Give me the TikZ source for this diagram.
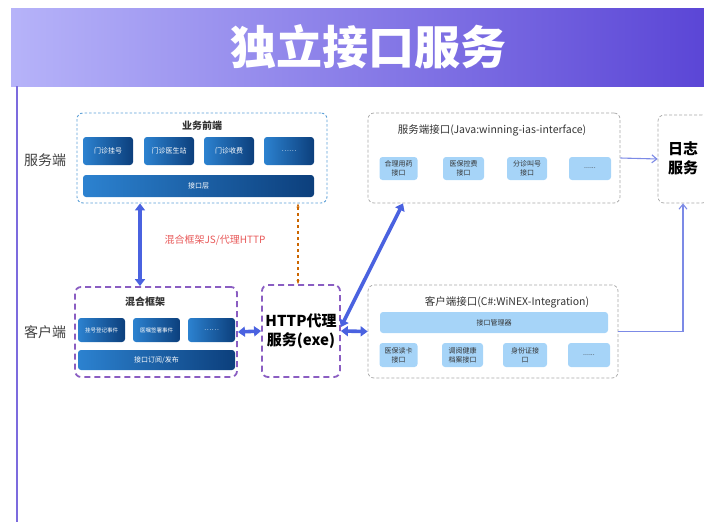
\documentclass[tikz,border=0pt]{standalone}
\usepackage{fontspec}
\setmainfont{Noto Sans CJK SC}
\usetikzlibrary{arrows.meta,positioning}
\definecolor{barlight}{HTML}{B6B3F9}
\definecolor{barmid}{HTML}{A7A0F3}
\definecolor{bardark}{HTML}{5B46D6}
\definecolor{btnlight}{HTML}{2C82D0}
\definecolor{btndark}{HTML}{0C3F7C}
\definecolor{btnpale}{HTML}{A6D4F8}
\definecolor{boxblue}{HTML}{5C9FD6}
\definecolor{boxpurple}{HTML}{8A5DC2}
\definecolor{arrowblue}{HTML}{4A62E0}
\definecolor{linkblue}{HTML}{7C8AE6}
\definecolor{labelred}{HTML}{E85A5A}
\tikzset{
  darkbtn/.style={rounded corners=3pt, left color=btnlight, right color=btndark,
    text=white, inner sep=0pt, font=\fontsize{7}{8}\selectfont},
  palebtn/.style={rounded corners=3pt, fill=btnpale, inner sep=0pt, align=center,
    text=black!80, font=\fontsize{7}{9}\selectfont},
  frontbox/.style={draw=boxblue, line width=0.9pt, dash pattern=on 2.5pt off 2pt, rounded corners=6pt},
  mixbox/.style={draw=boxpurple, line width=1.8pt, dash pattern=on 6pt off 4pt, rounded corners=6pt},
  greybox/.style={draw=black!35, line width=0.7pt, dash pattern=on 3pt off 2pt, rounded corners=6pt},
  bigarrow/.style={draw=arrowblue, line width=3.6pt, {Triangle[length=7pt,width=10pt]}-{Triangle[length=7pt,width=10pt]}},
  thinarrow/.style={draw=linkblue, line width=1.1pt, -{Straight Barb[length=5pt,width=8pt]}},
  sidelabel/.style={text=black!75, font=\fontsize{14}{16}\selectfont}
}
\begin{document}
\begin{tikzpicture}[x=1pt,y=-1pt]
  \useasboundingbox (0,0) rectangle (704,522);
  % title bar
  \shade[left color=barlight, middle color=barmid, right color=bardark] (11,8) rectangle (704,86);
  \node[text=white, font=\fontsize{46}{50}\selectfont\bfseries] (title) at (368,47) {独立接口服务};
  \draw[bardark!80, line width=2pt] (17,86) -- (17,522);
  % side labels
  \node[sidelabel] (srvside) at (45,160) {服务端};
  \node[sidelabel] (cliside) at (45,332) {客户端};
  % business front end
  \node[frontbox, minimum width=250pt, minimum height=90pt] (front) at (202,158) {};
  \node[font=\fontsize{10}{11}\selectfont\bfseries, text=black!80] (fronttitle) at (202,126) {业务前端};
  \node[darkbtn, minimum width=50pt, minimum height=28pt] (reg) at (108,151) {门诊挂号};
  \node[darkbtn, minimum width=50pt, minimum height=28pt] (doc) at (169,151) {门诊医生站};
  \node[darkbtn, minimum width=50pt, minimum height=28pt] (fee) at (229,151) {门诊收费};
  \node[darkbtn, minimum width=50pt, minimum height=28pt] (more1) at (289,151) {……};
  \node[darkbtn, minimum width=231pt, minimum height=22pt] (ifl) at (198.5,186) {接口层};
  % server interface
  \node[greybox, minimum width=252pt, minimum height=90pt] (srv) at (494,158) {};
  \node[font=\fontsize{10.5}{12}\selectfont, text=black!80] (srvtitle) at (492,130) {服务端接口(Java:winning-ias-interface)};
  \node[palebtn, minimum width=38pt, minimum height=23pt] (drug) at (398.5,168.5) {合理用药\\接口};
  \node[palebtn, minimum width=41pt, minimum height=23pt] (ins) at (463.5,168.5) {医保控费\\接口};
  \node[palebtn, minimum width=40pt, minimum height=23pt] (call) at (527,168.5) {分诊叫号\\接口};
  \node[palebtn, minimum width=42pt, minimum height=23pt] (more2) at (590,168.5) {......};
  % log service
  \node[greybox, minimum width=50pt, minimum height=88pt] (log) at (683,159) {};
  \node[font=\fontsize{15}{19}\selectfont\bfseries, align=center] (logtext) at (683,158) {日志\\服务};
  % mixed framework
  \node[mixbox, minimum width=162pt, minimum height=90pt] (mixed) at (156,332) {};
  \node[font=\fontsize{10}{11}\selectfont\bfseries, text=black!80] (mixtitle) at (145,302) {混合框架};
  \node[darkbtn, minimum width=47pt, minimum height=24pt, font=\fontsize{5.5}{6}\selectfont] (regevt) at (101.5,330) {挂号登记事件};
  \node[darkbtn, minimum width=47pt, minimum height=24pt, font=\fontsize{5.5}{6}\selectfont] (ordevt) at (156.5,330) {医嘱签署事件};
  \node[darkbtn, minimum width=47pt, minimum height=24pt] (more3) at (211.5,330) {……};
  \node[darkbtn, minimum width=157pt, minimum height=20pt] (pubsub) at (156.5,360) {接口订阅/发布};
  % http proxy
  \node[mixbox, minimum width=78pt, minimum height=92pt] (http) at (301,331) {};
  \node[font=\fontsize{15}{19}\selectfont\bfseries, align=center] (httptext) at (301,331) {HTTP代理\\服务(exe)};
  % client interface
  \node[greybox, minimum width=250pt, minimum height=93pt] (client) at (493,331.5) {};
  \node[font=\fontsize{10.5}{12}\selectfont, text=black!80] (clititle) at (507,302) {客户端接口(C\#:WiNEX-Integration)};
  \node[palebtn, minimum width=228pt, minimum height=21pt] (mgr) at (494,322.5) {接口管理器};
  \node[palebtn, minimum width=38pt, minimum height=24pt] (card) at (398.5,355) {医保读卡\\接口};
  \node[palebtn, minimum width=41pt, minimum height=24pt] (health) at (462.5,355) {调阅健康\\档案接口};
  \node[palebtn, minimum width=44pt, minimum height=24pt] (idcard) at (525,355) {身份证接\\口};
  \node[palebtn, minimum width=42pt, minimum height=24pt] (more4) at (589,355) {......};
  % connectors
  \draw[bigarrow] ([xshift=-62pt]front.south) -- ([xshift=-62pt]front.south |- mixed.north);
  \draw[draw=orange!80!black, line width=1.3pt, dashed, {Stealth[length=4pt]}-{Stealth[length=4pt]}]
    ([xshift=-3pt]http.north) -- ([xshift=-3pt]http.north |- front.south);
  \node[text=labelred, font=\fontsize{10}{12}\selectfont] (jslabel) at (215,240) {混合框架JS/代理HTTP};
  \draw[bigarrow] (mixed.east) -- (http.west);
  \draw[bigarrow] (http.east) -- (client.west);
  \draw[bigarrow] ([yshift=4pt]http.east) -- ([xshift=-91pt]srv.south);
  \draw[thinarrow] (srv.east) -- (log.west);
  \draw[thinarrow] (client.east) -| (log.south);
\end{tikzpicture}
\end{document}
